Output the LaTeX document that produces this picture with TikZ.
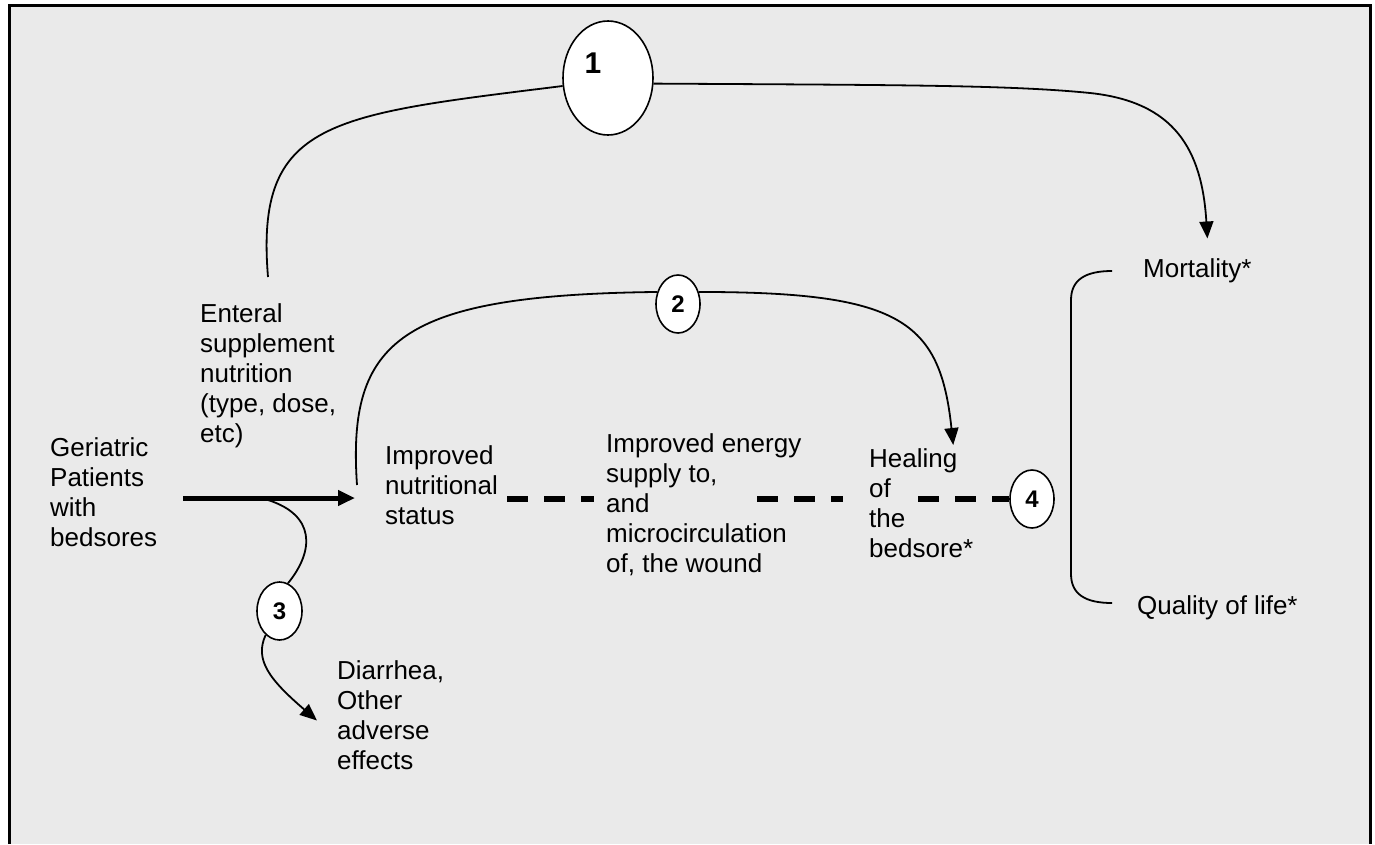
\documentclass[tikz,border=0pt]{standalone}
\usepackage{fontspec}
\setmainfont{Liberation Sans}
\usetikzlibrary{arrows.meta,shapes.geometric,calc}
\definecolor{bggray}{RGB}{234,234,234}
\tikzset{
  txt/.style={anchor=north west, align=left, inner sep=0pt, font=\fontsize{26}{30}\selectfont},
  oval/.style={ellipse, draw, fill=white, line width=1.6pt, inner sep=0pt, font=\bfseries\fontsize{24}{26}\selectfont},
  conn/.style={line width=1.8pt},
  tip/.style={-{Triangle[length=17pt,width=14pt]}},
  mainarrow/.style={line width=5pt, -{Triangle[length=17pt,width=15pt]}},
  dashline/.style={line width=6pt, dash pattern=on 21pt off 16pt},
}
\begin{document}
\begin{tikzpicture}[x=1pt,y=-1pt]
\useasboundingbox (0,0) rectangle (1375,844);
\fill[white] (0,0) rectangle (1375,844);
\fill[bggray] (8,5) rectangle (1372,844);
\draw[line width=3pt] (9.5,844) -- (9.5,5.5) -- (1370.5,5.5) -- (1370.5,844);

% text nodes
\node[txt] (ent) at (200,303.5) {Enteral\\supplement\\nutrition\\(type, dose,\\etc)};
\node[txt] (ger) at (50,437.5) {Geriatric\\Patients\\with\\bedsores};
\node[txt] (nutr) at (385,445.5) {Improved\\nutritional\\status};
\node[txt] (energy) at (606,433.5) {Improved energy\\supply to,\\and\\microcirculation\\of, the wound};
\node[txt] (heal) at (869,448.5) {Healing\\of\\the\\bedsore*};
\node[txt] (mort) at (1143,258.5) {Mortality*};
\node[txt] (qol) at (1137,595.5) {Quality of life*};
\node[txt] (diar) at (337,660.5) {Diarrhea,\\Other\\adverse\\effects};

% numbered ovals
\node[oval, minimum width=90pt, minimum height=114pt] (e1) at (608,78) {};
\node[font=\bfseries\fontsize{30}{32}\selectfont, inner sep=0pt] (l1) at (593,63) {1};
\node[oval, minimum width=44pt, minimum height=58pt] (e2) at (678,304) {2};
\node[oval, minimum width=45pt, minimum height=58pt] (e3) at (279.5,611) {3};
\node[oval, minimum width=44pt, minimum height=58pt] (e4) at (1032,499) {4};

% helper coordinates
\coordinate (dl) at (0,499);
\coordinate (ml) at (0,498);
\coordinate (c1s) at (268,277);
\coordinate (c2s) at (357,485);
\coordinate (c3s) at (268,500);
\coordinate (d2s) at (757,499);
\coordinate (d3s) at (918,499);
\coordinate (bt) at (1112,271);
\coordinate (bb) at (1112,603);

% main arrow
\draw[mainarrow] ($(ger.east |- ml)+(26,0)$) -- ($(nutr.west |- ml)+(-30,0)$);

% curve 1
\draw[conn] (c1s) .. controls (255,120) and (330,115) .. (e1.190);
\draw[conn,tip] (e1.-7) .. controls (900,85) and (1010,85) .. (1090,93)
   .. controls (1175,102) and (1202,150) .. ($(mort.north)+(10,-20)$);

% curve 2
\draw[conn] (c2s) .. controls (347,340) and (400,295) .. (e2.150);
\draw[conn,tip] (e2.30) .. controls (900,292) and (940,320) .. ($(heal.north)+(32,-3.5)$);

% curve 3
\draw[conn] (c3s) .. controls (315,515) and (315,550) .. (e3.73);
\draw[conn,tip] (e3.240) .. controls (254,660) and (270,680) .. ($(diar.north west)+(-20,60)$);

% dashed links
\draw[dashline] ($(nutr.east |- dl)+(9,0)$) -- ($(energy.west |- dl)+(-12,0)$);
\draw[dashline] (d2s) -- ($(heal.west |- dl)+(-26,0)$);
\draw[dashline] (d3s) -- (e4.west);

% bracket
\draw[conn] (bt) .. controls (1085,271) and (1071,280) .. (1071,300) -- (1071,574)
   .. controls (1071,594) and (1085,603) .. (bb);
\end{tikzpicture}
\end{document}
